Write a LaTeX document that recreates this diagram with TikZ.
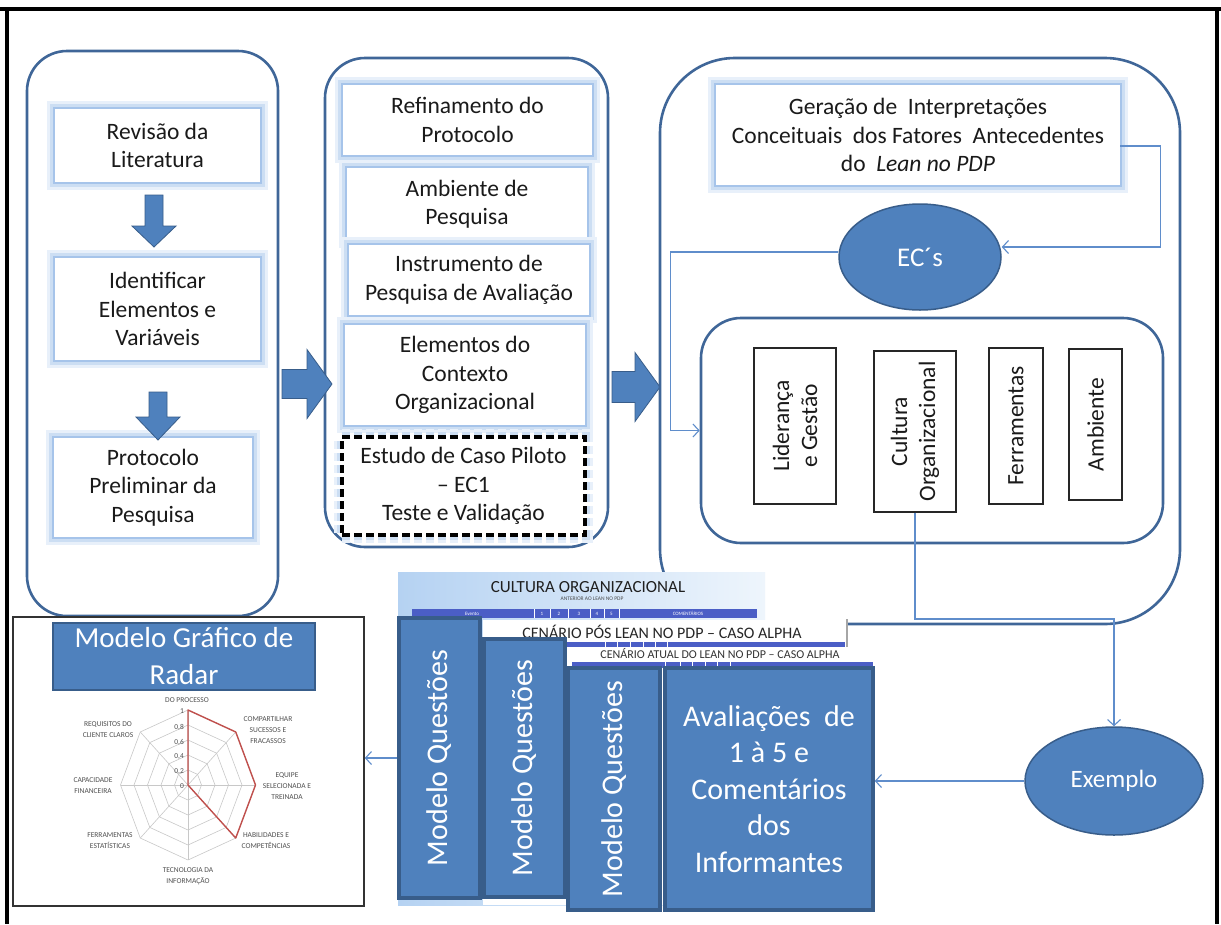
\documentclass[tikz,border=0pt]{standalone}
\usepackage{fontspec}
\setmainfont{Carlito}
\usetikzlibrary{arrows.meta,calc,shapes.geometric}
\definecolor{bfill}{HTML}{4F81BD}
\definecolor{bdark}{HTML}{385D8A}
\definecolor{contc}{HTML}{3F6698}
\definecolor{linkc}{HTML}{5F8DCB}
\definecolor{glowA}{HTML}{E8F0FA}
\definecolor{glowB}{HTML}{CCDEF3}
\definecolor{glowC}{HTML}{A6C4EA}
\definecolor{tblue}{HTML}{4B5EC6}
\definecolor{tbgA}{HTML}{B5D2F2}
\definecolor{tbgB}{HTML}{EEF5FC}
\definecolor{radgray}{HTML}{C8C8C8}
\definecolor{radred}{HTML}{C0504D}
\definecolor{labgray}{HTML}{505050}
\definecolor{txt}{HTML}{1A1A1A}
\newcommand\blkdown[4]{%
  \filldraw[fill=bfill, draw=bdark, line width=0.8pt]
    ({#1-9},#2) -- ({#1+9},#2) -- ({#1+9},#3) -- ({#1+22},#3) -- (#1,#4)
    -- ({#1-22},#3) -- ({#1-9},#3) -- cycle;}
\newcommand\blkright[6]{%
  \filldraw[fill=bfill, draw=bdark, line width=0.8pt]
    (#1,{#4-#5}) -- (#2,{#4-#5}) -- (#2,{#4-#6}) -- (#3,#4) -- (#2,{#4+#6})
    -- (#2,{#4+#5}) -- (#1,{#4+#5}) -- cycle;}
\begin{document}
\begin{tikzpicture}[x=1pt,y=-1pt,
  container/.style={draw=contc, line width=2.6pt, rounded corners=#1, inner sep=0pt},
  glowbox/.style={fill=white, inner sep=0pt, align=center, text=txt,
    font=\fontsize{23.5}{28.5}\selectfont,
    preaction={draw=glowA, line width=16pt},
    preaction={draw=glowB, line width=10pt},
    preaction={draw=glowC, line width=4pt}},
  factorbox/.style={draw=black!85, line width=1.2pt, fill=white, rotate=90, align=center,
    inner sep=0pt, text=txt, font=\fontsize{23.5}{28}\selectfont},
  blueell/.style={ellipse, fill=bfill, draw=bdark, line width=1.5pt, text=white, inner sep=0pt},
  qbox/.style={fill=bfill, draw=bdark, line width=3.5pt, text=white, inner sep=0pt},
  link/.style={draw=linkc, line width=1.1pt, -{Straight Barb[length=6pt,width=13pt]}},
  radlab/.style={font=\fontsize{7.5}{11}\selectfont, text=labgray, align=center, inner sep=0pt},
  cell/.style={font=\fontsize{5}{5}\selectfont, text=white, inner sep=0pt},
]
\useasboundingbox (0,0) rectangle (1221,924);
\fill[white] (0,0) rectangle (1221,924);

% outer frame
\draw[line width=3.5pt] (0,9) -- (1221,9);
\draw[line width=3.5pt] (7,9) -- (7,924);
\draw[line width=3.5pt] (1217,9) -- (1217,924);

% ---------- left column ----------
\node[container=40pt, minimum width=251, minimum height=565] (c1) at (152.5,333.5) {};
\node[glowbox, minimum width=205, minimum height=73] (b1) at (157.5,145.5) {Revisão da\\Literatura};
\node[glowbox, minimum width=205, minimum height=102] (b2) at (157.5,309) {Identificar\\Elementos e\\Variáveis};
\node[glowbox, minimum width=198, minimum height=99] (b3) at (153,487.5) {Protocolo\\Preliminar da\\Pesquisa};
\blkdown{154}{195}{226}{247}
\blkdown{158}{392}{417}{440}

% ---------- middle column ----------
\node[container=40pt, minimum width=283, minimum height=489] (c2) at (466.5,302.5) {};
\node[glowbox, minimum width=249, minimum height=70] (m1) at (467.5,120) {Refinamento do\\Protocolo};
\node[glowbox, minimum width=240, minimum height=72] (m2) at (467,204) {Ambiente de\\Pesquisa};
\node[glowbox, minimum width=240, minimum height=70] (m3) at (469,280) {Instrumento de\\Pesquisa de Avaliação};
\node[glowbox, minimum width=240, minimum height=100] (m4) at (465,375) {Elementos do\\Contexto\\Organizacional};
\node[glowbox, draw=black, line width=3.5pt, dash pattern=on 8pt off 4pt,
      minimum width=243, minimum height=98] (m5) at (463.5,486) {Estudo de Caso Piloto\\– EC1\\Teste e Validação};

\blkright{282}{307}{332}{384}{14.5}{34.5}
\blkright{612}{635}{660}{387}{15.5}{34.5}

% ---------- right column ----------
\node[container=75pt, minimum width=520, minimum height=566] (c3) at (920,341) {};
\node[glowbox, minimum width=404, minimum height=100] (ger) at (918,135)
  {Geração de\ \ Interpretações\\Conceituais\ \ dos Fatores\ \ Antecedentes\\do\ \ \textit{Lean no PDP}};
\node[blueell, minimum width=162, minimum height=106, font=\fontsize{27}{27}\selectfont] (ecs) at (920,257) {EC´s};
\node[container=40pt, minimum width=462, minimum height=225] (inner) at (932,430.5) {};
\node[factorbox, minimum width=156, minimum height=82] (lid) at (795,426) {Liderança\\e Gestão};
\node[factorbox, minimum width=161, minimum height=82] (cult) at (915,431.5) {Cultura\\Organizacional};
\node[factorbox, minimum width=156, minimum height=54] (ferr) at (1016,426) {Ferramentas};
\node[factorbox, minimum width=151, minimum height=53] (amb) at (1095.5,424.5) {Ambiente};

\node[blueell, minimum width=178, minimum height=108, font=\fontsize{25}{25}\selectfont] (ex) at (1114,781) {Exemplo};

\coordinate (turnC) at (1000,619);
\draw[link] ([yshift=-11pt]ger.east) -- ++(40,0) |- ([yshift=10pt]ecs.east);
\draw[link] ([yshift=5pt]ecs.west) -| ([xshift=-29pt]inner.west) -- (inner.west);
\draw[link] (cult.west) |- (ex.north |- turnC) -- (ex.north);

% ---------- bottom tables ----------
\shade[left color=tbgA, right color=tbgB] (398,572) rectangle (765,905);
\node[font=\fontsize{17}{17}\selectfont, text=black!88, inner sep=0pt] (cultt) at (588,587) {CULTURA ORGANIZACIONAL};
\node[font=\fontsize{5.5}{6}\selectfont, text=black!70, inner sep=0pt] (cults) at (592,599) {ANTERIOR AO LEAN NO PDP};
\fill[tblue] (412,609) rectangle (757,618);
\foreach \xx in {534,550,568,590,604,619} \draw[white, line width=0.6pt] (\xx,609) -- (\xx,618);
\node[cell] (h1) at (472,613.5) {Evento};
\node[cell] (h2) at (542,613.5) {1};
\node[cell] (h3) at (559,613.5) {2};
\node[cell] (h4) at (579,613.5) {3};
\node[cell] (h5) at (597,613.5) {4};
\node[cell] (h6) at (611.5,613.5) {5};
\node[cell] (h7) at (688,613.5) {COMENTÁRIOS};

\fill[white] (483,620) rectangle (847,905);
\draw[gray!70, line width=2pt] (847,619) -- (847,647);
\node[font=\fontsize{16}{16}\selectfont, text=black!85, inner sep=0pt] (pos) at (662,632) {CENÁRIO PÓS LEAN NO PDP – CASO ALPHA};
\fill[tblue] (567,642) rectangle (845,647);
\foreach \xx in {605,617,630,643,655,667} \draw[white, line width=0.5pt] (\xx,642) -- (\xx,647);
\node[font=\fontsize{12}{12}\selectfont, text=black!80, inner sep=0pt] (atual) at (720,654) {CENÁRIO ATUAL DO LEAN NO PDP – CASO ALPHA};
\fill[tblue] (572,662) rectangle (873,668);
\foreach \xx in {665,680,692,705,717,730} \draw[white, line width=0.5pt] (\xx,662) -- (\xx,668);

\node[qbox, minimum width=81, minimum height=280] (mq1) at (439.5,758) {};
\node[rotate=90, text=white, font=\fontsize{30}{30}\selectfont, inner sep=0pt] (mq1t) at (mq1.center) {Modelo Questões};
\node[qbox, minimum width=81, minimum height=258] (mq2) at (524.5,768) {};
\node[rotate=90, text=white, font=\fontsize{30}{30}\selectfont, inner sep=0pt] (mq2t) at (mq2.center) {Modelo Questões};
\node[qbox, minimum width=92, minimum height=242] (mq3) at (614,789) {};
\node[rotate=90, text=white, font=\fontsize{30}{30}\selectfont, inner sep=0pt] (mq3t) at (mq3.center) {Modelo Questões};
\node[qbox, minimum width=208, minimum height=242, align=center,
      font=\fontsize{30}{36.5}\selectfont] (aval) at (769,789)
  {Avaliações\ \ de\\1 à 5 e\\Comentários\\dos\\Informantes};

\draw[link] (ex.west) -- (ex.west -| aval.east);

% ---------- radar ----------
\node[draw=black!80, line width=1.5pt, fill=white, minimum width=351, minimum height=289, inner sep=0pt] (rf) at (188.5,761.5) {};
\node[fill=bfill, draw=bdark, line width=2.5pt, minimum width=262, minimum height=67, inner sep=0pt,
      text=white, align=center, font=\fontsize{29}{37}\selectfont] (rt) at (184,656.5) {Modelo Gráfico de\\Radar};
\begin{scope}[shift={(188,785)}]
  \foreach \r in {0.2,0.4,0.6,0.8,1}
    \draw[radgray, line width=0.6pt] (0,{-75*\r})
      \foreach \a in {45,0,-45,-90,-135,180,135} {-- ({67.5*\r*cos(\a)},{-75*\r*sin(\a)})} -- cycle;
  \foreach \a in {90,45,0,-45,-90,-135,180,135}
    \draw[radgray, line width=0.6pt] (0,0) -- ({67.5*cos(\a)},{-75*sin(\a)});
  \draw[radred, line width=1.4pt, line join=round] (0,0) -- (0,-75) -- ({67.5*cos(45)},{-75*sin(45)})
    -- (67.5,0) -- ({67.5*cos(-45)},{-75*sin(-45)}) -- cycle;
\end{scope}
\node[radlab, anchor=east] (t1) at (184,711) {1};
\node[radlab, anchor=east] (t2) at (184,727) {0,8};
\node[radlab, anchor=east] (t3) at (184,742) {0,6};
\node[radlab, anchor=east] (t4) at (184,757) {0,4};
\node[radlab, anchor=east] (t5) at (184,772) {0,2};
\node[radlab, anchor=east] (t6) at (184,786) {0};
\node[radlab] (l1) at (187,700) {DO PROCESSO};
\node[radlab] (l2) at (268,730) {COMPARTILHAR\\SUCESSOS E\\FRACASSOS};
\node[radlab] (l3) at (287,786) {EQUIPE\\SELECIONADA E\\TREINADA};
\node[radlab] (l4) at (266,841) {HABILIDADES E\\COMPETÊNCIAS};
\node[radlab] (l5) at (188,876) {TECNOLOGIA DA\\INFORMAÇÃO};
\node[radlab] (l6) at (110,841) {FERRAMENTAS\\ESTATÍSTICAS};
\node[radlab] (l7) at (93,786) {CAPACIDADE\\FINANCEIRA};
\node[radlab] (l8) at (108,730) {REQUISITOS DO\\CLIENTE CLAROS};

\draw[link] (mq1.west) -- (mq1.west -| rf.east);
\end{tikzpicture}
\end{document}
